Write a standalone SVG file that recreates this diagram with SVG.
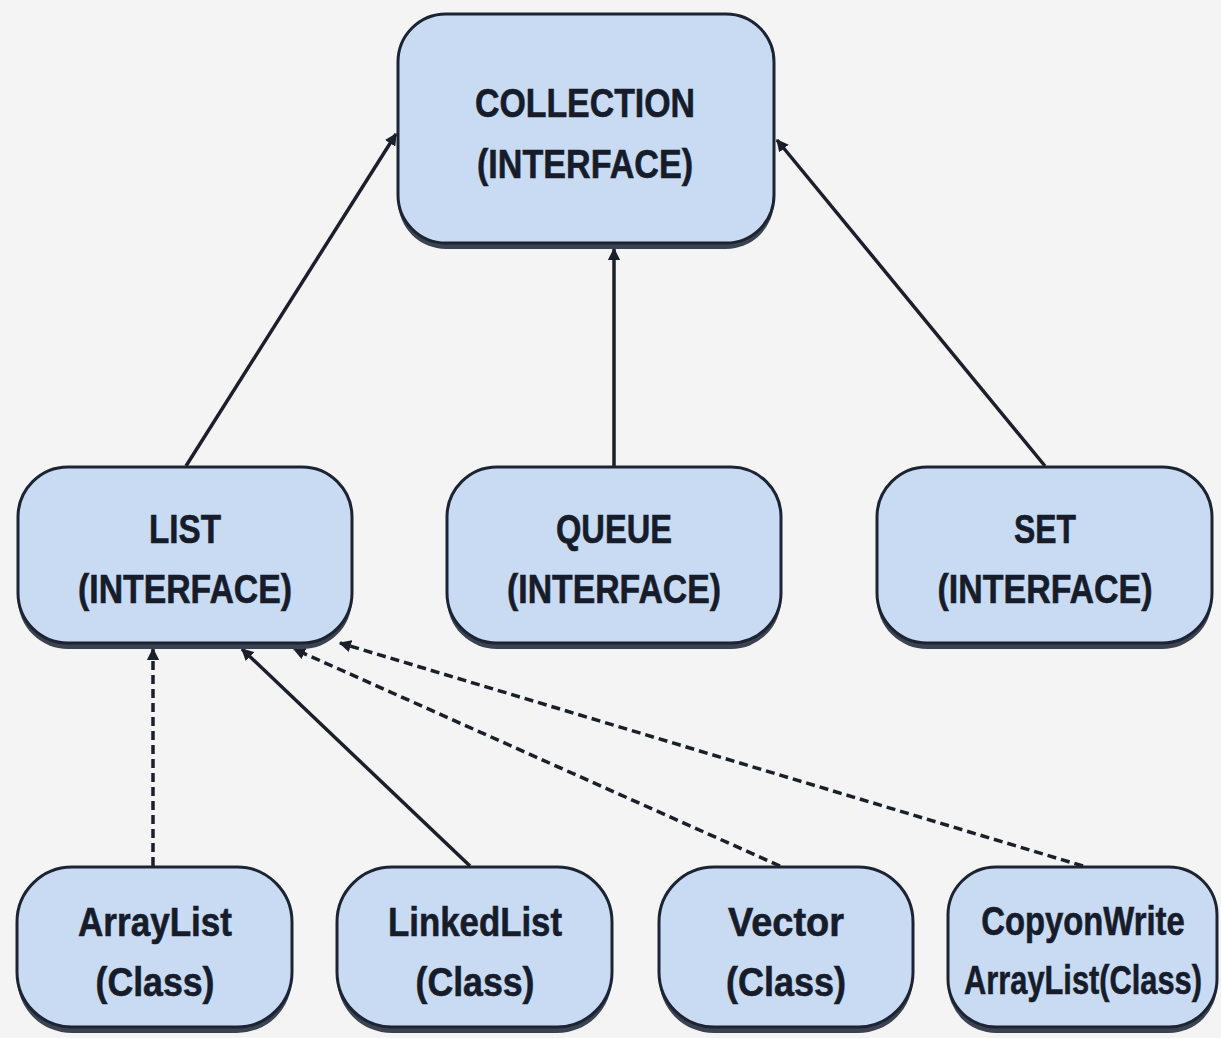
<svg xmlns="http://www.w3.org/2000/svg" width="1221" height="1038" viewBox="0 0 1221 1038">
<defs>
<style>
.sh{fill:#3b4352}
.box{fill:#c9dbf3;stroke:#1c2433;stroke-width:3}
.t{font-family:"Liberation Sans",Arial,sans-serif;font-weight:bold;font-size:40px;fill:#161c2a;stroke:#161c2a;stroke-width:0.6;text-anchor:middle}
.c{stroke:#1a1f2a;stroke-width:3.5;fill:none}
.d{stroke-dasharray:9 5}
</style>
<marker id="ah" viewBox="0 0 10 10" refX="9" refY="5" markerWidth="3.5" markerHeight="3.5" orient="auto" markerUnits="strokeWidth">
<path d="M0,0 L10,5 L0,10 Z" fill="#1a1f2a"/>
</marker>
</defs>
<rect width="1221" height="1038" fill="#f4f4f4"/>
<g id="connectors">
<line class="c" x1="186" y1="466" x2="396" y2="134" marker-end="url(#ah)"/>
<line class="c" x1="614" y1="466" x2="614" y2="249" marker-end="url(#ah)"/>
<line class="c" x1="1045" y1="466" x2="777" y2="140" marker-end="url(#ah)"/>
<line class="c d" x1="153" y1="866" x2="153" y2="649" marker-end="url(#ah)"/>
<line class="c" x1="470" y1="866" x2="242" y2="649" marker-end="url(#ah)"/>
<line class="c d" x1="780" y1="866" x2="294" y2="649" marker-end="url(#ah)"/>
<line class="c d" x1="1083" y1="866" x2="340" y2="643" marker-end="url(#ah)"/>
</g>
<g id="collection">
<rect class="sh" x="398" y="20" width="376" height="229" rx="48"/>
<rect class="box" x="398" y="14" width="376" height="229" rx="48"/>
<text class="t" x="585" y="117" textLength="220" lengthAdjust="spacingAndGlyphs">COLLECTION</text>
<text class="t" x="585" y="178" textLength="216" lengthAdjust="spacingAndGlyphs">(INTERFACE)</text>
</g>
<g id="list">
<rect class="sh" x="18" y="473" width="334" height="176" rx="50"/>
<rect class="box" x="18" y="467" width="334" height="176" rx="50"/>
<text class="t" x="185" y="543" textLength="72" lengthAdjust="spacingAndGlyphs">LIST</text>
<text class="t" x="185" y="603" textLength="214" lengthAdjust="spacingAndGlyphs">(INTERFACE)</text>
</g>
<g id="queue">
<rect class="sh" x="447" y="473" width="334" height="176" rx="50"/>
<rect class="box" x="447" y="467" width="334" height="176" rx="50"/>
<text class="t" x="614" y="543" textLength="116" lengthAdjust="spacingAndGlyphs">QUEUE</text>
<text class="t" x="614" y="603" textLength="214" lengthAdjust="spacingAndGlyphs">(INTERFACE)</text>
</g>
<g id="set">
<rect class="sh" x="877" y="473" width="335" height="176" rx="50"/>
<rect class="box" x="877" y="467" width="335" height="176" rx="50"/>
<text class="t" x="1045" y="543" textLength="62" lengthAdjust="spacingAndGlyphs">SET</text>
<text class="t" x="1045" y="603" textLength="215" lengthAdjust="spacingAndGlyphs">(INTERFACE)</text>
</g>
<g id="arraylist">
<rect class="sh" x="17" y="872" width="275" height="161" rx="55"/>
<rect class="box" x="17" y="867" width="275" height="160" rx="55"/>
<text class="t" x="155" y="936" textLength="154" lengthAdjust="spacingAndGlyphs">ArrayList</text>
<text class="t" x="155" y="996" textLength="119" lengthAdjust="spacingAndGlyphs">(Class)</text>
</g>
<g id="linkedlist">
<rect class="sh" x="337" y="872" width="275" height="161" rx="55"/>
<rect class="box" x="337" y="867" width="275" height="160" rx="55"/>
<text class="t" x="475" y="936" textLength="174" lengthAdjust="spacingAndGlyphs">LinkedList</text>
<text class="t" x="475" y="996" textLength="119" lengthAdjust="spacingAndGlyphs">(Class)</text>
</g>
<g id="vector">
<rect class="sh" x="659" y="872" width="254" height="161" rx="55"/>
<rect class="box" x="659" y="867" width="254" height="160" rx="55"/>
<text class="t" x="786" y="936" textLength="116" lengthAdjust="spacingAndGlyphs">Vector</text>
<text class="t" x="786" y="996" textLength="120" lengthAdjust="spacingAndGlyphs">(Class)</text>
</g>
<g id="copyonwrite">
<rect class="sh" x="948" y="872" width="269" height="161" rx="48"/>
<rect class="box" x="948" y="867" width="269" height="160" rx="48"/>
<text class="t" transform="translate(1083,935) scale(0.82,1)" x="0" y="0">CopyonWrite</text>
<text class="t" transform="translate(1083,994) scale(0.77,1)" x="0" y="0">ArrayList(Class)</text>
</g>
</svg>
